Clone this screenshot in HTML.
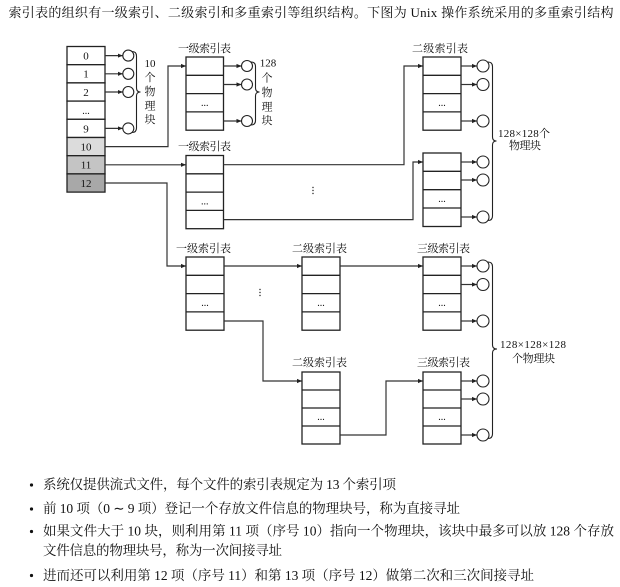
<!DOCTYPE html>
<html><head><meta charset="utf-8"><style>
html,body{margin:0;padding:0;background:#fff;}
svg{display:block;}
text{font-family:"Liberation Serif","Noto Serif CJK SC","Noto Sans CJK SC",serif;fill:#111;}
.lb{font-size:11px;}
.tb{font-size:11px;text-anchor:middle;}
.dots{font-size:10px;text-anchor:middle;}
.ln{fill:none;stroke:#333;stroke-width:1.2;}
.bx{fill:#fff;stroke:#222;stroke-width:1.3;}
.rl{stroke:#222;stroke-width:1.3;}
.ci{fill:#fff;stroke:#222;stroke-width:1.1;}
.br{fill:none;stroke:#222;stroke-width:1.1;}
</style></head><body>
<svg width="620" height="587" viewBox="0 0 620 587" xmlns="http://www.w3.org/2000/svg">
<defs>
<marker id="a" markerWidth="6" markerHeight="6" refX="5" refY="3" orient="auto" markerUnits="userSpaceOnUse"><path d="M0,0.9 L5,3 L0,5.1z" fill="#222"/></marker>
</defs>

<!-- title -->
<text x="8.5" y="17" font-size="13" textLength="605" lengthAdjust="spacing">索引表的组织有一级索引、二级索引和多重索引等组织结构。下图为 Unix 操作系统采用的多重索引结构</text>

<!-- main table -->
<rect x="67" y="46.5" width="38" height="18.2" class="bx"/>
<rect x="67" y="64.7" width="38" height="18.2" class="bx"/>
<rect x="67" y="82.9" width="38" height="18.2" class="bx"/>
<rect x="67" y="101.1" width="38" height="18.2" class="bx"/>
<rect x="67" y="119.3" width="38" height="18.2" class="bx"/>
<rect x="67" y="137.5" width="38" height="18.2" class="bx" style="fill:#dcdcdc"/>
<rect x="67" y="155.7" width="38" height="18.2" class="bx" style="fill:#c4c4c4"/>
<rect x="67" y="173.9" width="38" height="18.2" class="bx" style="fill:#a8a8a8"/>
<text class="tb" x="86" y="59.5">0</text>
<text class="tb" x="86" y="77.7">1</text>
<text class="tb" x="86" y="95.9">2</text>
<text class="dots" x="86" y="114">...</text>
<text class="tb" x="86" y="132.3">9</text>
<text class="tb" x="86" y="150.5">10</text>
<text class="tb" x="86" y="168.7">11</text>
<text class="tb" x="86" y="186.9">12</text>

<!-- direct circles -->
<line class="ln" x1="105" y1="55.6" x2="122.8" y2="55.6" marker-end="url(#a)"/>
<line class="ln" x1="105" y1="73.8" x2="122.8" y2="73.8" marker-end="url(#a)"/>
<line class="ln" x1="105" y1="92" x2="122.8" y2="92" marker-end="url(#a)"/>
<line class="ln" x1="105" y1="128.4" x2="122.8" y2="128.4" marker-end="url(#a)"/>
<circle class="ci" cx="128.3" cy="55.6" r="5.5"/>
<circle class="ci" cx="128.3" cy="73.8" r="5.5"/>
<circle class="ci" cx="128.3" cy="92" r="5.5"/>
<circle class="ci" cx="128.3" cy="128.4" r="5.5"/>
<path class="br" d="M132,51.5 Q136.5,51.5 136.5,56 L136.5,88 Q136.5,92 140.5,92 Q136.5,92 136.5,96 L136.5,128 Q136.5,132.5 132,132.5"/>
<text class="tb" x="150" y="67">10</text>
<text class="tb" x="150" y="81">个</text>
<text class="tb" x="150" y="95">物</text>
<text class="tb" x="150" y="109.5">理</text>
<text class="tb" x="150" y="123">块</text>

<!-- top 一级 (A) -->
<text class="lb" x="178" y="52" textLength="53">一级索引表</text>
<rect x="186" y="57" width="37.5" height="73.2" class="bx"/>
<line class="rl" x1="186" y1="75.3" x2="223.5" y2="75.3"/>
<line class="rl" x1="186" y1="93.6" x2="223.5" y2="93.6"/>
<line class="rl" x1="186" y1="111.9" x2="223.5" y2="111.9"/>
<text class="dots" x="204.7" y="106">...</text>
<line class="ln" x1="223.5" y1="66" x2="241.5" y2="66" marker-end="url(#a)"/>
<line class="ln" x1="223.5" y1="84.5" x2="241.5" y2="84.5" marker-end="url(#a)"/>
<line class="ln" x1="223.5" y1="121" x2="241.5" y2="121" marker-end="url(#a)"/>
<circle class="ci" cx="247" cy="66" r="5.5"/>
<circle class="ci" cx="247" cy="84.5" r="5.5"/>
<circle class="ci" cx="247" cy="121" r="5.5"/>
<path class="br" d="M251,62 Q255.5,62 255.5,66.5 L255.5,88 Q255.5,92 259.5,92 Q255.5,92 255.5,96 L255.5,120.5 Q255.5,125 251,125"/>
<text class="tb" x="268" y="66.5">128</text>
<text class="tb" x="267" y="81.5">个</text>
<text class="tb" x="267" y="96">物</text>
<text class="tb" x="267" y="110.5">理</text>
<text class="tb" x="267" y="124">块</text>

<!-- row 10 connector -->
<polyline class="ln" points="105,146.6 168,146.6 168,66 186,66" marker-end="url(#a)"/>

<!-- middle 一级 (B) -->
<text class="lb" x="178" y="150" textLength="53">一级索引表</text>
<rect x="186" y="155.5" width="37.5" height="73.2" class="bx"/>
<line class="rl" x1="186" y1="173.8" x2="223.5" y2="173.8"/>
<line class="rl" x1="186" y1="192.1" x2="223.5" y2="192.1"/>
<line class="rl" x1="186" y1="210.4" x2="223.5" y2="210.4"/>
<text class="dots" x="204.7" y="204.5">...</text>
<polyline class="ln" points="105,164.8 186,164.8" marker-end="url(#a)"/>
<polyline class="ln" points="105,183 167,183 167,266 186,266" marker-end="url(#a)"/>
<polyline class="ln" points="223.5,164.7 404,164.7 404,66 423,66" marker-end="url(#a)"/>
<polyline class="ln" points="223.5,219.6 413,219.6 413,162 423,162" marker-end="url(#a)"/>
<circle cx="313" cy="187.5" r="0.7" fill="#222"/>
<circle cx="313" cy="190.5" r="0.7" fill="#222"/>
<circle cx="313" cy="193.5" r="0.7" fill="#222"/>

<!-- top 二级 (C) -->
<text class="lb" x="412" y="52" textLength="56">二级索引表</text>
<rect x="423" y="57" width="38" height="73.2" class="bx"/>
<line class="rl" x1="423" y1="75.3" x2="461" y2="75.3"/>
<line class="rl" x1="423" y1="93.6" x2="461" y2="93.6"/>
<line class="rl" x1="423" y1="111.9" x2="461" y2="111.9"/>
<text class="dots" x="442" y="106">...</text>
<line class="ln" x1="461" y1="66" x2="477" y2="66" marker-end="url(#a)"/>
<line class="ln" x1="461" y1="84.5" x2="477" y2="84.5" marker-end="url(#a)"/>
<line class="ln" x1="461" y1="121" x2="477" y2="121" marker-end="url(#a)"/>
<circle class="ci" cx="483" cy="66" r="6"/>
<circle class="ci" cx="483" cy="84.5" r="6"/>
<circle class="ci" cx="483" cy="121" r="6"/>

<!-- lower 二级 (D) -->
<rect x="423" y="153" width="38" height="73.5" class="bx"/>
<line class="rl" x1="423" y1="171.3" x2="461" y2="171.3"/>
<line class="rl" x1="423" y1="189.7" x2="461" y2="189.7"/>
<line class="rl" x1="423" y1="208" x2="461" y2="208"/>
<text class="dots" x="442" y="202">...</text>
<line class="ln" x1="461" y1="162" x2="477" y2="162" marker-end="url(#a)"/>
<line class="ln" x1="461" y1="180" x2="477" y2="180" marker-end="url(#a)"/>
<line class="ln" x1="461" y1="217" x2="477" y2="217" marker-end="url(#a)"/>
<circle class="ci" cx="483" cy="162" r="6"/>
<circle class="ci" cx="483" cy="180" r="6"/>
<circle class="ci" cx="483" cy="217" r="6"/>
<path class="br" d="M488,62 Q492.5,62 492.5,66.5 L492.5,137 Q492.5,141 496.5,141 Q492.5,141 492.5,145 L492.5,216 Q492.5,220.5 488,220.5"/>
<text class="lb" x="498" y="137" textLength="52">128×128个</text>
<text class="lb" x="509" y="149" textLength="32">物理块</text>

<!-- bottom: E 一级 -->
<text class="lb" x="176" y="252" textLength="55">一级索引表</text>
<rect x="186" y="257" width="38" height="73.2" class="bx"/>
<line class="rl" x1="186" y1="275.3" x2="224" y2="275.3"/>
<line class="rl" x1="186" y1="293.6" x2="224" y2="293.6"/>
<line class="rl" x1="186" y1="311.9" x2="224" y2="311.9"/>
<text class="dots" x="205" y="306">...</text>

<!-- F 二级 top -->
<text class="lb" x="292" y="252" textLength="55">二级索引表</text>
<rect x="302" y="257" width="38" height="73.2" class="bx"/>
<line class="rl" x1="302" y1="275.3" x2="340" y2="275.3"/>
<line class="rl" x1="302" y1="293.6" x2="340" y2="293.6"/>
<line class="rl" x1="302" y1="311.9" x2="340" y2="311.9"/>
<text class="dots" x="321" y="306">...</text>

<!-- G 三级 top -->
<text class="lb" x="417" y="252" textLength="53">三级索引表</text>
<rect x="423" y="257" width="38" height="73.2" class="bx"/>
<line class="rl" x1="423" y1="275.3" x2="461" y2="275.3"/>
<line class="rl" x1="423" y1="293.6" x2="461" y2="293.6"/>
<line class="rl" x1="423" y1="311.9" x2="461" y2="311.9"/>
<text class="dots" x="442" y="306">...</text>
<line class="ln" x1="461" y1="266" x2="477" y2="266" marker-end="url(#a)"/>
<line class="ln" x1="461" y1="284.5" x2="477" y2="284.5" marker-end="url(#a)"/>
<line class="ln" x1="461" y1="321" x2="477" y2="321" marker-end="url(#a)"/>
<circle class="ci" cx="483" cy="266" r="6"/>
<circle class="ci" cx="483" cy="284.5" r="6"/>
<circle class="ci" cx="483" cy="321" r="6"/>

<polyline class="ln" points="224,266 302,266" marker-end="url(#a)"/>
<polyline class="ln" points="340,266 423,266" marker-end="url(#a)"/>
<polyline class="ln" points="224,321 263,321 263,381 302,381" marker-end="url(#a)"/>
<circle cx="260" cy="289.5" r="0.7" fill="#222"/>
<circle cx="260" cy="292.5" r="0.7" fill="#222"/>
<circle cx="260" cy="295.5" r="0.7" fill="#222"/>

<!-- H 二级 lower -->
<text class="lb" x="292" y="366" textLength="55">二级索引表</text>
<rect x="302" y="372" width="38" height="72" class="bx"/>
<line class="rl" x1="302" y1="390" x2="340" y2="390"/>
<line class="rl" x1="302" y1="408" x2="340" y2="408"/>
<line class="rl" x1="302" y1="426" x2="340" y2="426"/>
<text class="dots" x="321" y="420">...</text>

<!-- I 三级 lower -->
<text class="lb" x="417" y="366" textLength="53">三级索引表</text>
<rect x="423" y="372" width="38" height="72" class="bx"/>
<line class="rl" x1="423" y1="390" x2="461" y2="390"/>
<line class="rl" x1="423" y1="408" x2="461" y2="408"/>
<line class="rl" x1="423" y1="426" x2="461" y2="426"/>
<text class="dots" x="442" y="420">...</text>
<polyline class="ln" points="340,435 386,435 386,381 423,381" marker-end="url(#a)"/>
<line class="ln" x1="461" y1="381" x2="477" y2="381" marker-end="url(#a)"/>
<line class="ln" x1="461" y1="399" x2="477" y2="399" marker-end="url(#a)"/>
<line class="ln" x1="461" y1="435" x2="477" y2="435" marker-end="url(#a)"/>
<circle class="ci" cx="483" cy="381" r="6"/>
<circle class="ci" cx="483" cy="399" r="6"/>
<circle class="ci" cx="483" cy="435" r="6"/>
<path class="br" d="M488,262 Q492.5,262 492.5,266.5 L492.5,345 Q492.5,349 497,349 Q492.5,349 492.5,353 L492.5,434 Q492.5,438.5 488,438.5"/>
<text class="lb" x="500" y="348" textLength="66">128×128×128</text>
<text class="lb" x="512" y="362" textLength="43">个物理块</text>

<!-- bullets -->
<circle cx="31.5" cy="485" r="1.6" fill="#111"/>
<circle cx="31.5" cy="509" r="1.6" fill="#111"/>
<circle cx="31.5" cy="531.5" r="1.6" fill="#111"/>
<circle cx="31.5" cy="575.5" r="1.6" fill="#111"/>
<text x="43" y="489" font-size="13.5" textLength="353" lengthAdjust="spacing">系统仅提供流式文件，每个文件的索引表规定为 13 个索引项</text>
<text x="43" y="513" font-size="13.5" textLength="417" lengthAdjust="spacing">前 10 项（0 ∼ 9 项）登记一个存放文件信息的物理块号，称为直接寻址</text>
<text x="43" y="535.5" font-size="13.5" textLength="571" lengthAdjust="spacing">如果文件大于 10 块，则利用第 11 项（序号 10）指向一个物理块，该块中最多可以放 128 个存放</text>
<text x="43" y="555" font-size="13.5" textLength="239" lengthAdjust="spacing">文件信息的物理块号，称为一次间接寻址</text>
<text x="43" y="580" font-size="13.5" textLength="491" lengthAdjust="spacing">进而还可以利用第 12 项（序号 11）和第 13 项（序号 12）做第二次和三次间接寻址</text>
</svg>
</body></html>
